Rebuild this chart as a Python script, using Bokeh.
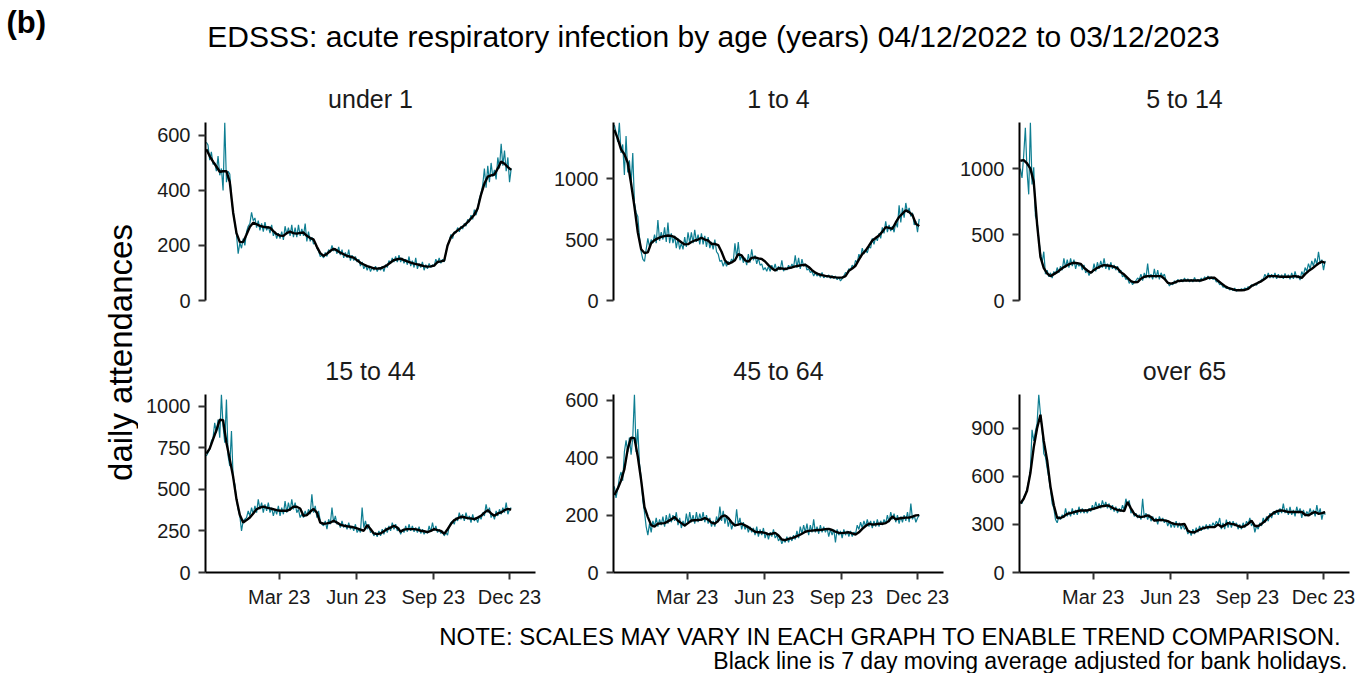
from datetime import datetime, timedelta
import math
from bokeh.plotting import figure
from bokeh.layouts import row, column
from bokeh.models import Range1d, FixedTicker, DatetimeTickFormatter, Label
from bokeh.embed import file_html
from bokeh.resources import INLINE

# ---------------- data ----------------
START = datetime(2022, 12, 4)   # first day of data (04/12/2022)
DAILY_STEP = 2                  # daily series read every 2 days
AVG_STEP = 4                    # moving average read every 4 days

panel_titles = ["under 1", "1 to 4", "5 to 14", "15 to 44", "45 to 64", "over 65"]
y_ticks = [[0, 200, 400, 600], [0, 500, 1000], [0, 500, 1000],
           [0, 250, 500, 750, 1000], [0, 200, 400, 600], [0, 300, 600, 900]]
x_tick_dates = [datetime(2023, 3, 1), datetime(2023, 6, 1), datetime(2023, 9, 1), datetime(2023, 12, 1)]
x_tick_format = "%b %y"

under1_daily = [
    575, 565, 510, 540, 495, 500, 470, 525, 455, 480,
    400, 647, 430, 470, 460, 370, 320, 280, 240, 170,
    210, 190, 225, 200, 250, 270, 280, 320, 290, 300,
    265, 290, 255, 280, 250, 285, 255, 270, 245, 275,
    235, 250, 225, 245, 225, 250, 220, 270, 240, 265,
    235, 275, 230, 265, 230, 275, 235, 260, 235, 280,
    215, 250, 215, 230, 205, 210, 190, 180, 160, 165,
    155, 175, 160, 185, 175, 200, 180, 190, 170, 195,
    165, 185, 155, 175, 155, 185, 145, 165, 145, 160,
    140, 150, 125, 140, 115, 130, 110, 125, 105, 120,
    110, 125, 105, 120, 110, 125, 105, 130, 120, 145,
    135, 155, 140, 160, 140, 165, 140, 155, 135, 150,
    130, 160, 125, 145, 120, 155, 115, 135, 120, 140,
    110, 130, 115, 135, 120, 130, 125, 150, 135, 155,
    135, 150, 140, 175, 200, 215, 240, 225, 250, 245,
    265, 250, 270, 260, 280, 270, 295, 285, 310, 295,
    330, 310, 335, 370, 390, 420, 480, 410, 490, 430,
    500, 450, 475, 440, 520, 480, 570, 490, 545, 470,
    520, 430, 480]
under1_avg = [
    550, 525, 505, 487, 468, 470, 470, 430, 320, 245,
    212, 213, 240, 268, 283, 277, 271, 268, 266, 265,
    252, 241, 236, 235, 245, 250, 245, 243, 246, 247,
    235, 227, 222, 195, 172, 162, 170, 180, 188, 182,
    174, 168, 162, 159, 156, 146, 137, 131, 125, 121,
    117, 116, 117, 122, 129, 138, 147, 150, 152, 147,
    142, 138, 134, 131, 128, 125, 123, 124, 127, 140,
    142, 145, 200, 230, 245, 255, 264, 273, 285, 298,
    312, 335, 385, 425, 450, 455, 458, 480, 505, 497,
    485, 475]

age1to4_daily = [
    1440, 1380, 1300, 1460, 1210, 1280, 1030, 1350, 1050, 1150,
    950, 1210, 800, 720, 690, 520, 400, 340, 320, 420,
    510, 440, 500, 470, 540, 470, 660, 490, 560, 500,
    600, 480, 640, 470, 550, 470, 530, 430, 510, 420,
    470, 420, 520, 440, 560, 470, 560, 470, 580, 480,
    540, 460, 550, 460, 530, 440, 520, 430, 480, 420,
    500, 400, 380, 320, 330, 280, 320, 280, 320, 300,
    340, 320, 470, 350, 480, 330, 370, 310, 350, 290,
    380, 310, 420, 330, 370, 300, 350, 290, 300, 250,
    270, 240, 280, 240, 290, 250, 300, 240, 280, 250,
    330, 240, 270, 250, 290, 260, 300, 270, 370, 270,
    350, 260, 340, 280, 300, 250, 260, 230, 240, 200,
    230, 200, 220, 190, 230, 185, 200, 190, 210, 180,
    205, 180, 200, 170, 190, 160, 180, 200, 230, 220,
    260, 250, 290, 270, 330, 310, 380, 350, 430, 380,
    420, 390, 440, 430, 510, 460, 520, 490, 550, 510,
    600, 550, 650, 560, 620, 570, 610, 560, 640, 600,
    780, 640, 760, 680, 800, 720, 760, 690, 720, 620,
    650, 560, 670]
age1to4_avg = [
    1400, 1330, 1240, 1200, 1130, 960, 770, 560, 420, 390,
    395, 470, 495, 510, 522, 528, 533, 530, 519, 498,
    478, 460, 462, 480, 492, 500, 515, 500, 492, 464,
    464, 455, 400, 330, 300, 312, 330, 381, 370, 330,
    318, 350, 354, 345, 340, 320, 290, 265, 246, 265,
    263, 257, 265, 271, 280, 285, 290, 293, 275, 249,
    228, 215, 208, 202, 198, 193, 190, 188, 188, 200,
    243, 262, 285, 335, 381, 409, 450, 492, 512, 533,
    565, 602, 595, 588, 640, 685, 712, 740, 725, 700,
    630, 610]

age5to14_daily = [
    1000, 930, 1100, 1310, 980, 805, 1350, 880, 1010, 640,
    600, 470, 360, 290, 370, 200, 230, 180, 210, 170,
    220, 200, 250, 210, 260, 230, 320, 250, 310, 250,
    320, 260, 310, 240, 290, 260, 280, 230, 270, 210,
    230, 190, 220, 210, 280, 220, 290, 240, 300, 250,
    320, 240, 280, 230, 290, 240, 270, 230, 260, 210,
    230, 180, 190, 160, 170, 130, 150, 120, 140, 150,
    170, 160, 200, 150, 210, 170, 280, 170, 200, 160,
    240, 170, 230, 160, 210, 180, 200, 150, 140, 110,
    130, 120, 150, 130, 160, 140, 160, 140, 170, 145,
    165, 140, 160, 140, 175, 145, 160, 140, 170, 150,
    180, 160, 185, 160, 180, 160, 170, 140, 145, 120,
    125, 100, 105, 90, 100, 80, 90, 75, 95, 70,
    85, 75, 90, 80, 95, 85, 105, 95, 120, 110,
    125, 115, 140, 135, 160, 160, 200, 170, 210, 170,
    200, 170, 210, 165, 200, 170, 195, 165, 205, 170,
    195, 160, 210, 165, 220, 170, 190, 155, 220, 190,
    250, 220, 280, 240, 300, 260, 320, 270, 370, 280,
    310, 230, 300]
age5to14_avg = [
    1060, 1065, 1040, 1000, 900, 580, 330, 245, 205, 185,
    200, 215, 235, 253, 268, 280, 286, 283, 278, 248,
    228, 210, 232, 248, 260, 268, 265, 262, 255, 245,
    215, 197, 172, 147, 138, 140, 165, 180, 185, 185,
    185, 185, 185, 165, 134, 128, 135, 147, 150, 152,
    152, 152, 152, 152, 152, 160, 172, 172, 172, 150,
    130, 110, 96, 88, 80, 78, 78, 80, 88, 110,
    122, 135, 147, 165, 185, 185, 185, 182, 180, 180,
    180, 182, 185, 180, 172, 200, 223, 240, 261, 280,
    295, 286]

age15to44_daily = [
    700, 720, 740, 790, 810, 900, 840, 920, 810, 1070,
    880, 780, 1040, 700, 640, 850, 570, 530, 440, 380,
    340, 250, 310, 320, 330, 370, 340, 390, 350, 400,
    360, 440, 380, 420, 360, 410, 370, 420, 360, 390,
    340, 380, 350, 400, 340, 390, 350, 430, 360, 420,
    370, 440, 380, 420, 360, 380, 330, 350, 330, 370,
    340, 380, 350, 470, 360, 400, 330, 370, 310, 290,
    280, 310, 260, 320, 290, 390, 300, 340, 290, 300,
    270, 310, 270, 290, 260, 300, 260, 280, 250, 290,
    240, 260, 240, 390, 270, 310, 260, 290, 240, 250,
    220, 240, 215, 250, 220, 260, 230, 270, 240, 280,
    250, 300, 260, 290, 250, 270, 230, 260, 240, 280,
    245, 290, 250, 280, 245, 270, 240, 275, 235, 260,
    230, 250, 235, 280, 245, 300, 250, 280, 240, 260,
    235, 250, 220, 240, 225, 280, 300, 310, 290, 330,
    310, 360, 320, 350, 310, 360, 320, 340, 300, 350,
    310, 330, 300, 340, 320, 360, 340, 410, 360, 390,
    330, 350, 320, 370, 340, 380, 350, 390, 360, 420,
    350, 380, 390]
age15to44_avg = [
    715, 745, 800, 855, 918, 915, 780, 680, 575, 440,
    345, 301, 315, 331, 355, 380, 390, 396, 390, 385,
    380, 375, 371, 371, 371, 380, 396, 395, 385, 341,
    345, 365, 382, 360, 300, 293, 295, 300, 311, 300,
    287, 282, 278, 275, 271, 265, 258, 251, 285, 261,
    235, 231, 235, 248, 261, 270, 281, 270, 245, 258,
    261, 261, 261, 258, 251, 248, 243, 250, 261, 255,
    250, 232, 260, 291, 315, 325, 335, 332, 327, 325,
    321, 330, 341, 360, 375, 355, 341, 355, 361, 375,
    382, 378]

age45to64_daily = [
    300, 260, 290, 330, 350, 320, 420, 460, 420, 470,
    410, 470, 620, 420, 500, 380, 330, 250, 210, 160,
    130, 170, 140, 180, 160, 190, 160, 185, 165, 195,
    160, 200, 170, 205, 175, 200, 180, 210, 165, 190,
    155, 180, 160, 205, 170, 210, 175, 200, 170, 210,
    175, 205, 180, 210, 175, 200, 170, 190, 160, 180,
    160, 195, 175, 230, 180, 215, 170, 200, 160, 185,
    150, 170, 160, 220, 165, 190, 150, 175, 150, 165,
    140, 160, 140, 155, 130, 160, 125, 150, 130, 155,
    120, 140, 115, 140, 125, 150, 120, 130, 110, 120,
    100, 115, 105, 125, 105, 125, 110, 130, 115, 145,
    120, 160, 135, 165, 140, 170, 130, 165, 140, 185,
    140, 160, 135, 165, 140, 160, 140, 155, 125, 150,
    130, 150, 105, 150, 130, 145, 120, 150, 130, 145,
    125, 145, 125, 140, 135, 165, 150, 175, 155, 180,
    160, 185, 160, 180, 155, 180, 160, 185, 160, 180,
    165, 185, 170, 200, 175, 210, 185, 205, 175, 200,
    170, 195, 175, 200, 180, 210, 175, 240, 185, 200,
    175, 190, 200]
age45to64_avg = [
    270, 292, 320, 360, 430, 470, 468, 404, 322, 228,
    193, 165, 160, 170, 171, 172, 178, 185, 193, 180,
    172, 164, 172, 181, 182, 183, 184, 190, 184, 174,
    170, 180, 195, 199, 190, 175, 164, 167, 170, 164,
    158, 150, 142, 140, 140, 138, 133, 135, 138, 129,
    115, 113, 117, 120, 124, 129, 135, 142, 145, 146,
    147, 148, 149, 151, 152, 148, 142, 138, 137, 139,
    140, 136, 132, 140, 152, 162, 170, 167, 168, 170,
    170, 172, 180, 195, 185, 188, 190, 191, 191, 195,
    199, 200]

over65_daily = [
    440, 430, 470, 490, 520, 570, 640, 890, 820, 880,
    930, 1110, 990, 900, 740, 720, 650, 590, 520, 430,
    400, 330, 310, 350, 330, 360, 340, 400, 350, 380,
    350, 400, 360, 390, 360, 410, 370, 400, 370, 395,
    370, 400, 380, 420, 390, 440, 400, 430, 400, 450,
    410, 440, 400, 430, 390, 420, 380, 410, 370, 400,
    380, 420, 390, 460, 420, 450, 370, 390, 350, 370,
    340, 360, 330, 460, 340, 370, 330, 360, 320, 350,
    320, 340, 300, 350, 320, 340, 310, 330, 290, 320,
    280, 310, 280, 320, 280, 310, 270, 300, 270, 280,
    240, 260, 230, 270, 240, 280, 250, 290, 260, 290,
    270, 300, 270, 300, 280, 310, 290, 320, 300, 340,
    270, 310, 270, 330, 280, 320, 280, 320, 290, 310,
    270, 300, 270, 310, 280, 320, 300, 340, 290, 310,
    250, 290, 270, 310, 290, 340, 310, 350, 320, 370,
    340, 380, 360, 390, 360, 400, 370, 430, 370, 400,
    360, 410, 360, 390, 350, 410, 370, 400, 340, 390,
    350, 380, 360, 400, 360, 390, 350, 420, 360, 400,
    330, 380, 360]
over65_avg = [
    430, 460, 510, 620, 780, 900, 984, 820, 701, 534,
    419, 340, 340, 350, 366, 370, 377, 382, 387, 387,
    387, 393, 398, 405, 412, 415, 419, 410, 398, 390,
    387, 383, 440, 400, 366, 350, 345, 350, 356, 345,
    324, 326, 328, 325, 320, 310, 303, 300, 299, 303,
    260, 251, 251, 262, 272, 278, 283, 283, 283, 300,
    285, 295, 308, 303, 299, 290, 283, 290, 303, 324,
    290, 290, 303, 320, 345, 362, 377, 385, 387, 383,
    377, 377, 377, 377, 377, 360, 356, 370, 377, 366,
    370, 377]

daily_series = [under1_daily, age1to4_daily, age5to14_daily,
                age15to44_daily, age45to64_daily, over65_daily]
avg_series = [under1_avg, age1to4_avg, age5to14_avg,
              age15to44_avg, age45to64_avg, over65_avg]

# ---------------- styling ----------------
FONT = "Liberation Sans"
TEAL = "#0E7E92"
X_START = datetime(2022, 12, 3)
X_END = datetime(2024, 1, 1)


def ms(d):
    return (d - datetime(1970, 1, 1)).total_seconds() * 1000.0


def make_panel(i, width, height, left, right, top, bottom, show_x):
    daily = daily_series[i]
    avg = avg_series[i]
    d_dates = [START + timedelta(days=DAILY_STEP * k) for k in range(len(daily))]
    a_dates = [START + timedelta(days=AVG_STEP * k) for k in range(len(avg))]
    p = figure(width=width, height=height, x_axis_type="datetime",
               x_range=Range1d(X_START, X_END), y_range=Range1d(0, max(daily)),
               toolbar_location=None, output_backend="svg",
               min_border_left=left, min_border_right=right,
               min_border_top=top, min_border_bottom=bottom,
               title=panel_titles[i])
    p.title.align = "center"
    p.title.text_font = FONT
    p.title.text_font_size = "25px"
    p.title.text_font_style = "normal"
    p.title.text_color = "#1a1a1a"
    p.title.standoff = 19
    p.outline_line_color = None
    p.grid.visible = False
    p.background_fill_color = "white"
    p.border_fill_color = "white"

    p.line(d_dates, daily, color=TEAL, line_width=1.2)
    p.line(a_dates, avg, color="black", line_width=2.4)

    for ax in p.axis:
        ax.axis_line_width = 2
        ax.axis_line_color = "black"
        ax.major_tick_line_width = 2
        ax.major_tick_line_color = "#333333"
        ax.major_tick_out = 7
        ax.major_tick_in = 0
        ax.minor_tick_line_color = None
        ax.major_label_text_font = FONT
        ax.major_label_text_font_size = "20px"
        ax.major_label_text_color = "#1a1a1a"
    p.yaxis.ticker = FixedTicker(ticks=y_ticks[i])
    p.yaxis.major_label_standoff = 8
    p.xaxis.ticker = FixedTicker(ticks=[ms(d) for d in x_tick_dates])
    p.xaxis.formatter = DatetimeTickFormatter(days=x_tick_format, months=x_tick_format,
                                              years=x_tick_format)
    p.xaxis.major_label_standoff = 6
    if not show_x:
        p.xaxis.visible = False
    return p


def blank(width, height):
    p = figure(width=width, height=height, x_range=Range1d(0, width),
               y_range=Range1d(height, 0), toolbar_location=None,
               output_backend="svg", min_border=0,
               x_axis_type=None, y_axis_type=None)
    p.outline_line_color = None
    p.grid.visible = False
    return p


# column geometry: [figure width, left border, right border]
cols = [(408, 67, 11), (406, 67, 9), (407, 67, 10)]
top_row = []
bot_row = []
for c, (w, l, r) in enumerate(cols):
    top_row.append(make_panel(c, w, 270, l, r, 52, 40, False))
    bot_row.append(make_panel(c + 3, w, 275, l, r, 54, 43, True))

header = blank(1359, 70)
header.add_layout(Label(x=6, y=22, text="(b)", text_font=FONT, text_font_size="31px",
                        text_font_style="bold", text_align="left", text_baseline="middle",
                        text_color="black"))
header.add_layout(Label(x=713, y=36,
                        text="EDSSS: acute respiratory infection by age (years) 04/12/2022 to 03/12/2023",
                        text_font=FONT, text_font_size="30px", text_align="center",
                        text_baseline="middle", text_color="black"))

ylab = blank(138, 545)
ylab.add_layout(Label(x=120, y=282, text="daily attendances", text_font=FONT,
                      text_font_size="33px", text_align="center", text_baseline="middle",
                      angle=math.pi / 2, text_color="black"))

footer = blank(1359, 58)
footer.add_layout(Label(x=1342, y=21,
                        text="NOTE: SCALES MAY VARY IN EACH GRAPH TO ENABLE TREND COMPARISON.",
                        text_font=FONT, text_font_size="24px", text_align="right",
                        text_baseline="middle", text_color="black"))
footer.add_layout(Label(x=1347, y=45,
                        text="Black line is 7 day moving average adjusted for bank holidays.",
                        text_font=FONT, text_font_size="23px", text_align="right",
                        text_baseline="middle", text_color="black"))

layout = column(header,
                row(ylab, column(row(*top_row), row(*bot_row))),
                footer)

with open("out.html", "w") as f:
    f.write(file_html(layout, INLINE))
